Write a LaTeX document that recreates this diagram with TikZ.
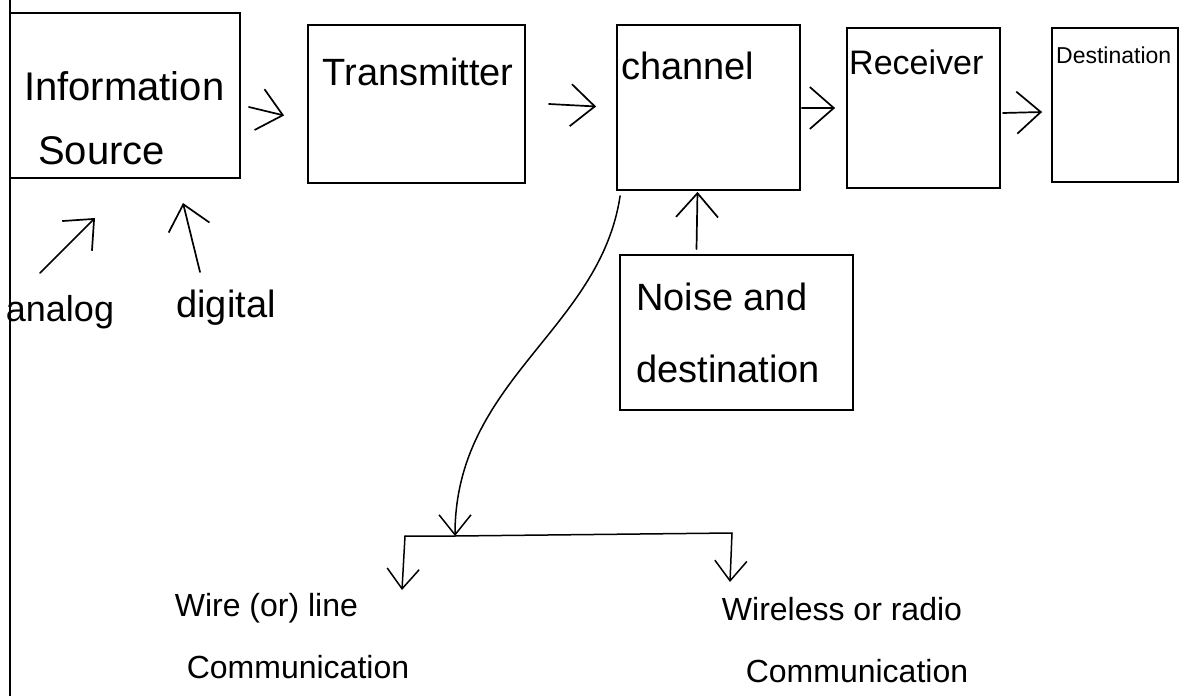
\documentclass[tikz,border=0pt]{standalone}
\usepackage{fontspec}
\setmainfont{Liberation Sans}
\usetikzlibrary{arrows.meta,calc}
\begin{document}
\begin{tikzpicture}[x=1pt,y=-1pt,
  box/.style={draw, line width=1.8pt, inner sep=0pt},
  hw/.style={inner sep=0pt},
  arr/.style={line width=1.7pt, line cap=round, -{Straight Barb[length=24pt,width=42pt,line width=1.7pt]}},
  sarr/.style={line width=1.5pt, line cap=round, -{Straight Barb[length=20pt,width=32pt,line width=1.5pt]}},
  conn/.style={line width=1.5pt, line cap=round}]
\useasboundingbox (0,0) rectangle (1203,696);
\fill[white] (0,0) rectangle (1203,696);
% margin line of the page
\draw[line width=1.5pt] (10,0) -- (10,696);

% boxes
\node[box, minimum width=230pt, minimum height=165pt] (info)  at (125,95.5)   {};
\node[box, minimum width=217pt, minimum height=158pt] (trans) at (416.5,104)  {};
\node[box, minimum width=183pt, minimum height=165pt] (chan)  at (708.5,107.5){};
\node[box, minimum width=153pt, minimum height=160pt] (recv)  at (923.5,108)  {};
\node[box, minimum width=126pt, minimum height=154pt] (dest)  at (1115,105)   {};
\node[box, minimum width=233pt, minimum height=155pt] (noise) at (736.5,332.5){};

% box texts
\node[hw, align=left, anchor=west, font=\fontsize{40}{64}\selectfont] (infot) at (24,118) {Information\\\hspace*{14pt}Source};
\node[hw, font=\fontsize{38}{46}\selectfont] (transt) at (418,72) {Transmitter};
\node[hw, anchor=west, font=\fontsize{38}{46}\selectfont] (chant) at (621,66) {channel};
\node[hw, anchor=west, font=\fontsize{34}{40}\selectfont] (recvt) at (849,62) {Receiver};
\node[hw, anchor=west, font=\fontsize{23}{28}\selectfont] (destt) at (1056,55) {Destination};
\node[hw, align=left, anchor=west, font=\fontsize{38}{72}\selectfont] (noiset) at (636,333) {Noise and\\destination};

% inputs
\node[hw, font=\fontsize{36}{42}\selectfont] (analog) at (60,312) {analog};
\node[hw, font=\fontsize{38}{44}\selectfont] (digital) at (226,308) {digital};
\coordinate (analogtip) at (95,218);
\coordinate (digitaltip) at (183,203);
\draw[arr] (40,273) -- (analogtip);
\draw[arr] (200,272) -- (digitaltip);

% chain arrows
\draw[arr] ($(info.east)+(8,11.5)$) -- ($(trans.west)+(-23,11.5)$);
\draw[arr] ($(trans.east)+(23,0)$) -- ($(chan.west)+(-20,-1)$);
\draw[arr] ($(chan.east)+(1,0.5)$) -- ($(recv.west)+(-11,0)$);
\draw[arr] ($(recv.east)+(2,5)$) -- ($(dest.west)+(-9,7)$);

% noise arrow
\draw[arr] ($(noise.north)+(-40,-5)$) -- ($(chan.south)+(-11,1)$);

% branch to communication kinds
\coordinate (branch) at (455,536);
\coordinate (bl) at (405,536);
\coordinate (br) at (732,533);
\draw[sarr] ($(chan.south west)+(4,5)$) .. controls (600,330) and (455,380) .. (branch);
\draw[conn] (bl) -- (branch) -- (br);

\node[hw, align=left, font=\fontsize{32}{62}\selectfont] (wire) at (292,636) {Wire (or) line\\\hspace*{12pt}Communication};
\node[hw, align=center, font=\fontsize{32}{62}\selectfont] (wless) at (842,640) {Wireless or radio\\\hspace*{30pt}Communication};

\draw[sarr] (bl) -- (402,590);
\draw[sarr] (br) -- (730,582);
\end{tikzpicture}
\end{document}
